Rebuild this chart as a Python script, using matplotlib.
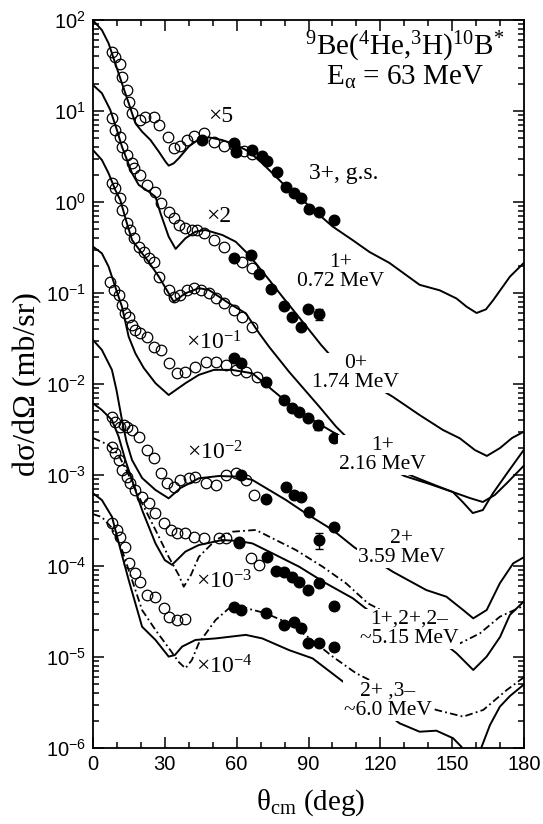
import numpy as np
import matplotlib
matplotlib.use("Agg")
import matplotlib.pyplot as plt
from matplotlib.ticker import MultipleLocator, LogLocator, NullFormatter, FuncFormatter

plt.rcParams.update({
    'font.family': ['Liberation Serif', 'DejaVu Serif'],
    'mathtext.fontset': 'custom',
    'mathtext.rm': 'Liberation Serif',
    'mathtext.it': 'Liberation Serif:italic',
    'mathtext.bf': 'Liberation Serif:bold',
    'mathtext.sf': 'Liberation Sans',
})

# ---------------- calculated angular distributions (scaled) ----------------
gs_calc_theta = [0, 3.7, 6.5, 9.3, 12.1, 14.9, 17.7, 20.5, 24.0, 27.5, 30.3, 31.6, 33.7, 35.8, 40.0,
                 44.2, 48.4, 54.0, 59.6, 65.2, 70.7, 76.4, 81.9, 87.5, 93.1, 100.1, 108.5, 115.5,
                 123.8, 136.4, 144.8, 151.8, 156.0, 160.2, 164.1, 167.1, 174.1, 180]
gs_calc = [99, 77.6, 55.5, 33.4, 20.1, 12.2, 7.33, 5.93, 4.8, 3.57, 2.77, 2.51, 2.66, 3.02, 4.07,
           4.90, 5.13, 4.79, 4.27, 3.57, 2.66, 1.90, 1.36, 1.05, 0.776, 0.537, 0.380, 0.282,
           0.214, 0.123, 0.107, 0.0871, 0.0708, 0.0603, 0.0661, 0.0832, 0.151, 0.215]

s072_calc_theta = [0, 3.7, 7.2, 10.0, 12.1, 14.2, 16.3, 19.1, 23.3, 26.1, 28.2, 31.6, 34.5, 38.6,
                   42.8, 47.0, 54.0, 59.6, 63.8, 68.0, 73.6, 79.1, 84.7, 90.3, 95.3, 100.8, 113.4,
                   125.2, 136.4, 146.1, 153.2, 159.5, 164.5, 170.0, 175.0, 180]
s072_calc = [19.3, 15.7, 10.3, 6.18, 4.05, 2.90, 2.07, 1.54, 1.30, 1.14, 0.751, 0.416, 0.305, 0.399,
             0.472, 0.492, 0.434, 0.366, 0.284, 0.212, 0.139, 0.0910, 0.0598, 0.0392, 0.0268, 0.0184,
             0.0111, 0.00724, 0.00456, 0.00313, 0.00253, 0.00188, 0.00162, 0.00198, 0.00255, 0.0030]

s174_calc_theta = [0, 3.7, 6.5, 9.3, 11.4, 14.0, 16.3, 20.5, 23.3, 27.5, 31.6, 33.7, 38.6, 44.2,
                   48.4, 56.8, 63.8, 69.4, 73.6, 81.9, 94.5, 101.5, 111.3, 121.8, 130.1, 140.6,
                   150.3, 154.4, 158.6, 162.8, 167.1, 173.3, 180]
s174_calc = [3.72, 2.90, 2.07, 1.36, 1.05, 0.603, 0.382, 0.273, 0.219, 0.151, 0.0993, 0.0802, 0.0993,
             0.113, 0.108, 0.0771, 0.0598, 0.0361, 0.0255, 0.0136, 0.00564, 0.0034, 0.00188, 0.00126,
             0.000975, 0.000796, 0.00065, 0.000505, 0.000382, 0.000412, 0.000634, 0.00108, 0.0019]

s216_calc_theta = [0, 3.7, 6.5, 9.3, 12.1, 14.9, 17.7, 21.2, 26.1, 31.6, 38.6, 44.2, 50.5, 58.0,
                   66.6, 74.9, 83.3, 91.7, 98.7, 105.7, 111.3, 123.8, 134.3, 142.7, 150.3, 157.4,
                   162.8, 167.8, 172.9, 180]
s216_calc = [0.323, 0.273, 0.195, 0.117, 0.0706, 0.0331, 0.0217, 0.015, 0.0102, 0.00757, 0.0102,
             0.0126, 0.0143, 0.0143, 0.0131, 0.00859, 0.00564, 0.00402, 0.00313, 0.00243, 0.00188,
             0.00126, 0.000951, 0.000776, 0.00065, 0.000558, 0.000505, 0.000603, 0.000817, 0.00127]

s359_calc_theta = [0, 3.7, 7.9, 9.8, 12.1, 14.0, 16.3, 20.5, 26.1, 31.6, 36.5, 44.2, 52.6, 61.0,
                   66.6, 73.6, 80.6, 88.9, 100.1, 109.2, 117.6, 125.2, 139.2, 147.6, 154.6, 158.8,
                   164.4, 169.9, 175.5, 180]
s359_calc = [0.0305, 0.0237, 0.0143, 0.00859, 0.00402, 0.00231, 0.00146, 0.000927, 0.000684, 0.000554,
             0.000719, 0.00092, 0.000975, 0.000958, 0.000881, 0.000684, 0.000531, 0.000379, 0.000249,
             0.00016, 0.000116, 8.65e-5, 5.44e-5, 4.6e-5, 3.28e-5, 2.66e-5, 3.28e-5, 6.45e-5,
             0.000107, 0.000125]

s515_calc_theta = [0, 3.7, 7.9, 10.7, 13.5, 16.3, 20.5, 26.1, 30.0, 33.0, 38.6, 44.2, 54.0, 61.0,
                   66.6, 74.9, 86.1, 97.3, 108.5, 114.8, 128.0, 144.8, 151.8, 158.8, 164.4, 170.0,
                   174.1, 180]
s515_calc = [0.00614, 0.00518, 0.00402, 0.00264, 0.00146, 0.000881, 0.000412, 0.000177, 0.000116,
             0.000103, 0.000144, 0.00017, 0.000193, 0.000188, 0.000177, 0.000138, 9.82e-5, 6.45e-5,
             4.42e-5, 3.28e-5, 2.25e-5, 1.54e-5, 1.1e-5, 7.2e-6, 1.01e-5, 1.66e-5, 2.9e-5, 4.1e-5]

s515_alt_theta = [0, 6.5, 10.7, 14.9, 20.5, 26.1, 31.6, 35.8, 37.9, 40.9, 44.2, 51.2, 58.2, 68.0,
                  73.6, 84.7, 95.9, 105.7, 114.8, 132.2, 153.2, 161.6, 169.9, 179.0, 180]
s515_alt = [0.00255, 0.00214, 0.00166, 0.001, 0.000489, 0.000249, 0.000126, 7.96e-5, 5.92e-5, 7.96e-5,
            0.000126, 0.000193, 0.000238, 0.000249, 0.00021, 0.00015, 9.82e-5, 6.45e-5, 3.89e-5,
            2.25e-5, 1.41e-5, 1.82e-5, 2.77e-5, 3.57e-5, 3.7e-5]

s60_calc_theta = [0, 3.7, 7.9, 12.1, 14.9, 17.7, 20.5, 26.1, 31.6, 34.2, 37.2, 42.8, 51.2, 63.8,
                  70.7, 81.9, 91.7, 100.8, 109.9, 119.7, 128.0, 136.4, 143.4, 150.4, 153.9, 155.7,
                  160.7, 162.3, 165.8, 169.9, 174.1, 180]
s60_calc = [0.00063, 0.000531, 0.000348, 0.000132, 7.02e-5, 3.89e-5, 2.15e-5, 1.54e-5, 1.01e-5,
            1.05e-5, 1.3e-5, 1.54e-5, 1.6e-5, 1.75e-5, 1.6e-5, 1.19e-5, 9.66e-6, 6.34e-6, 4.16e-6,
            2.75e-6, 1.87e-6, 1.51e-6, 1.55e-6, 1.28e-6, 1.03e-6, 6.0e-7, 6.0e-7, 1.03e-6, 1.79e-6,
            2.84e-6, 3.72e-6, 5.0e-6]

s60_alt_theta = [0, 3.7, 7.9, 12.1, 16.3, 20.5, 26.1, 31.6, 35.8, 38.6, 41.3, 44.2, 51.2, 56.8,
                 63.8, 72.2, 81.9, 90.3, 100.1, 109.9, 128.0, 143.4, 154.6, 163.0, 172.8, 180]
s60_alt = [0.000372, 0.000345, 0.000262, 0.00015, 7.02e-5, 3.28e-5, 1.98e-5, 1.26e-5, 8.81e-6,
           7.52e-6, 9.27e-6, 1.42e-5, 2.55e-5, 3.43e-5, 3.45e-5, 3.02e-5, 2.34e-5, 1.62e-5,
           1.01e-5, 6.62e-6, 3.82e-6, 2.62e-6, 2.21e-6, 2.62e-6, 4.34e-6, 6.0e-6]

# ---------------- measured cross sections (scaled) ----------------
gs_open_theta = [7.9, 9.3, 11.4, 12.1, 14.2, 14.9, 16.3, 19.8, 21.9, 25.4, 27.5, 31.2, 33.7, 36.5,
                 39.3, 42.1, 46.3, 50.5, 54.7, 58.9, 63.1, 66.6]
gs_open = [44.9, 39.6, 32.8, 23.4, 17.0, 12.6, 9.4, 7.9, 8.6, 8.6, 7.0, 5.2, 3.9, 4.1, 4.8, 5.3,
           5.7, 4.6, 4.1, 4.2, 3.6, 3.4]
gs_full_theta = [45.6, 58.9, 59.6, 66.3, 70.7, 72.8, 77.0, 80.5, 84.0, 86.8, 90.0, 94.5, 100.8]
gs_full = [4.8, 4.4, 3.5, 3.7, 3.2, 2.8, 2.15, 1.47, 1.24, 1.10, 0.83, 0.78, 0.63]
gs_full_err = [0, 0, 0, 0, 0, 0, 0, 0, 0, 0, 0, 0, 0]

s072_open_theta = [7.9, 9.3, 11.4, 12.1, 14.2, 16.3, 17.0, 19.8, 22.5, 26.1, 28.2, 31.6, 33.7, 35.8,
                   38.6, 41.4, 43.5, 46.3, 50.5, 54.7, 62.4, 66.6]
s072_open = [8.32, 6.18, 5.22, 4.05, 3.28, 2.66, 2.34, 1.98, 1.54, 1.30, 0.968, 0.782, 0.662, 0.559,
             0.514, 0.492, 0.492, 0.453, 0.382, 0.323, 0.221, 0.187]
s072_full_theta = [58.9, 65.8, 69.4, 74.4, 79.8, 83.3, 86.8, 89.9, 94.5]
s072_full = [0.245, 0.262, 0.162, 0.111, 0.0711, 0.0538, 0.0418, 0.0667, 0.0587]
s072_full_err = [0, 0, 0, 0, 0, 0, 0, 0, 0.008]

s174_open_theta = [7.9, 9.3, 11.4, 12.1, 14.2, 15.6, 17.0, 19.1, 21.2, 23.3, 25.4, 27.5, 31.6, 33.7,
                   36.5, 39.3, 42.1, 44.9, 48.4, 51.2, 54.7, 58.9, 62.4, 66.6]
s174_open = [1.60, 1.41, 1.10, 0.817, 0.583, 0.492, 0.399, 0.323, 0.284, 0.240, 0.221, 0.151, 0.108,
             0.0910, 0.0951, 0.108, 0.113, 0.108, 0.0993, 0.0875, 0.0771, 0.065, 0.055, 0.0427]

s216_open_theta = [7.2, 8.6, 10.7, 12.1, 13.5, 14.9, 16.3, 17.7, 19.8, 22.5, 25.4, 28.2, 31.6, 35.1,
                   38.6, 42.8, 47.0, 51.2, 55.4, 59.6, 63.8, 68.5]
s216_open = [0.133, 0.108, 0.0951, 0.0738, 0.0598, 0.055, 0.0445, 0.0392, 0.0361, 0.0331, 0.0257,
             0.0237, 0.0169, 0.0133, 0.0136, 0.0155, 0.0176, 0.0176, 0.0162, 0.0143, 0.0137, 0.0119]
s216_full_theta = [58.9, 61.7, 72.2, 79.8, 83.3, 86.1, 89.6, 93.8, 100.8]
s216_full = [0.0191, 0.0169, 0.0106, 0.00667, 0.0054, 0.00497, 0.0042, 0.00354, 0.00253]
s216_full_err = [0, 0, 0, 0, 0, 0, 0, 0.0004, 0]

s359_open_theta = [7.9, 9.3, 11.4, 12.8, 14.2, 16.3, 19.1, 22.5, 25.4, 28.2, 30.9, 33.7, 36.5, 40.0,
                   42.8, 47.0, 51.2, 55.4, 59.6, 63.8, 67.3]
s359_open = [0.00438, 0.00385, 0.0034, 0.00354, 0.0034, 0.00313, 0.00264, 0.00188, 0.00153, 0.00104,
             0.00081, 0.000743, 0.000881, 0.00092, 0.000958, 0.00081, 0.000776, 0.001, 0.00104,
             0.000881, 0.000603]
s359_full_theta = [61.7, 72.2, 80.6, 84.0, 86.8, 90.3, 94.5, 100.8]
s359_full = [0.001, 0.000545, 0.00073, 0.000603, 0.000566, 0.000395, 0.000193, 0.00027]
s359_full_err = [0, 0, 0, 0, 0, 0, 0.00004, 0]

s515_open_theta = [7.9, 9.3, 10.7, 12.1, 14.2, 15.6, 17.7, 20.5, 23.3, 26.1, 29.5, 32.4, 35.1, 38.6,
                   42.1, 46.3, 52.6, 55.4, 61.0, 65.9, 69.4]
s515_open = [0.00205, 0.00173, 0.00146, 0.00114, 0.000958, 0.00081, 0.000684, 0.000578, 0.000489,
             0.000379, 0.000294, 0.000249, 0.000232, 0.000229, 0.00021, 0.000201, 0.000201, 0.000201,
             0.000177, 0.000121, 0.000103]
s515_full_theta = [61.0, 72.8, 76.4, 79.8, 83.3, 86.1, 89.6, 94.5, 100.8]
s515_full = [0.000185, 0.000126, 8.89e-5, 8.65e-5, 7.62e-5, 6.73e-5, 5.44e-5, 6.45e-5, 3.63e-5]
s515_full_err = [0, 0, 0, 0, 0, 0, 0, 0, 0]

s60_open_theta = [7.9, 10.0, 11.4, 13.5, 14.9, 17.7, 19.8, 22.5, 26.1, 29.5, 31.6, 35.1, 38.6]
s60_open = [2.94e-4, 2.49e-4, 2.1e-4, 1.63e-4, 1.07e-4, 8.32e-5, 6.73e-5, 4.8e-5, 4.6e-5, 3.43e-5,
            2.77e-5, 2.55e-5, 2.6e-5]
s60_full_theta = [58.9, 61.7, 72.2, 79.8, 84.0, 86.8, 89.6, 94.5, 100.8]
s60_full = [3.57e-5, 3.28e-5, 3.08e-5, 2.25e-5, 2.45e-5, 2.07e-5, 1.42e-5, 1.44e-5, 1.3e-5]
s60_full_err = [0, 0, 0, 0, 0, 0, 0, 0, 0]

# scale factors and level labels
scale_labels = ['×5', '×2', '×10$^{-1}$', '×10$^{-2}$', '×10$^{-3}$', '×10$^{-4}$']
level_labels = ['3+, g.s.', '1+\n0.72 MeV', '0+\n1.74 MeV', '1+\n2.16 MeV', '2+\n3.59 MeV',
                '1+,2+,2–\n~5.15 MeV', '2+ ,3–\n~6.0 MeV']

# ---------------- figure ----------------
fig = plt.figure(figsize=(5.43, 8.24), dpi=100)
ax = fig.add_axes([93 / 543, 76 / 824, 431 / 543, 728 / 824])
ax.set_yscale('log')
ax.set_xlim(0, 180)
ax.set_ylim(1e-6, 1e2)

line_kw = dict(color='black', lw=1.4, zorder=2, solid_joinstyle='round', solid_capstyle='round')
dash_dot = (0, (4.2, 1.8, 1.0, 1.8))

for th, v in [(gs_calc_theta, gs_calc), (s072_calc_theta, s072_calc), (s174_calc_theta, s174_calc),
              (s216_calc_theta, s216_calc), (s359_calc_theta, s359_calc),
              (s515_calc_theta, s515_calc), (s60_calc_theta, s60_calc)]:
    ax.plot(th, v, **line_kw)
for th, v in [(s515_alt_theta, s515_alt), (s60_alt_theta, s60_alt)]:
    ax.plot(th, v, color='black', lw=1.3, ls=dash_dot, zorder=2)

open_kw = dict(ls='none', marker='o', ms=7.6, mfc='none', mec='black', mew=0.9, zorder=3)
for th, v in [(gs_open_theta, gs_open), (s072_open_theta, s072_open), (s174_open_theta, s174_open),
              (s216_open_theta, s216_open), (s359_open_theta, s359_open),
              (s515_open_theta, s515_open), (s60_open_theta, s60_open)]:
    ax.plot(th, v, **open_kw)

for th, v, e in [(gs_full_theta, gs_full, gs_full_err), (s072_full_theta, s072_full, s072_full_err),
                 (s216_full_theta, s216_full, s216_full_err), (s359_full_theta, s359_full, s359_full_err),
                 (s515_full_theta, s515_full, s515_full_err), (s60_full_theta, s60_full, s60_full_err)]:
    ax.errorbar(th, v, yerr=e, fmt='o', ms=7.6, color='black', ecolor='black',
                elinewidth=1.0, capsize=3, capthick=1.0, zorder=4)

# scale-factor annotations
scale_pos = [(53.3, 8.65), (52.6, 0.69), (50.5, 0.0282), (51.0, 0.00174), (54.7, 6.76e-5), (54.7, 7.76e-6)]
for txt, (x, y) in zip(scale_labels, scale_pos):
    ax.text(x, y, txt, fontsize=17, ha='center', va='center', zorder=6)

# level labels; a white box interrupts the curves that run underneath the lower ones
level_pos = [(90.3, 2.08, 'left', 17, False), (103.3, 0.170, 'center', 15.5, False),
             (109.6, 0.0132, 'center', 15.5, True), (120.9, 0.00166, 'center', 15.5, True),
             (128.9, 0.000158, 'center', 15.5, True), (132.2, 2.04e-5, 'center', 15.5, True),
             (123.0, 3.31e-6, 'center', 15.5, True)]
for txt, (x, y, ha, fs, boxed) in zip(level_labels, level_pos):
    box = dict(facecolor='white', edgecolor='none', pad=0.6) if boxed else None
    ax.text(x, y, txt, fontsize=fs, ha=ha, va='center', multialignment='center',
            linespacing=1.05, zorder=6, bbox=box)

ax.text(0.724, 0.963, r'$^{9}$Be($^{4}$He,$^{3}$H)$^{10}$B$^{*}$', transform=ax.transAxes,
        fontsize=21, ha='center', va='center')
ax.text(0.724, 0.921, r'E$_{\mathrm{\alpha}}$ = 63 MeV', transform=ax.transAxes,
        fontsize=21, ha='center', va='center')

# axes, ticks
ax.xaxis.set_major_locator(MultipleLocator(30))
ax.xaxis.set_minor_locator(MultipleLocator(10))
ax.yaxis.set_major_locator(LogLocator(base=10, numticks=20))
ax.yaxis.set_minor_locator(LogLocator(base=10, subs=np.arange(2, 10), numticks=20))
ax.yaxis.set_minor_formatter(NullFormatter())
ax.yaxis.set_major_formatter(FuncFormatter(lambda v, p: r'$\mathsf{10^{%d}}$' % int(round(np.log10(v)))))

ax.tick_params(which='both', direction='in', top=True, right=True, width=1.1,
               labelsize=14.5, labelfontfamily='Liberation Sans')
ax.tick_params(which='major', length=8, pad=5)
ax.tick_params(which='minor', length=4)
for sp in ax.spines.values():
    sp.set_linewidth(1.3)

ax.set_ylabel('dσ/dΩ (mb/sr)', fontsize=23)
ax.set_xlabel(r'θ$_{\mathrm{cm}}$ (deg)', fontsize=21)
ax.yaxis.set_label_coords(-0.118, 0.5)
ax.xaxis.set_label_coords(0.505, -0.054)

fig.savefig('out.png', dpi=100)
